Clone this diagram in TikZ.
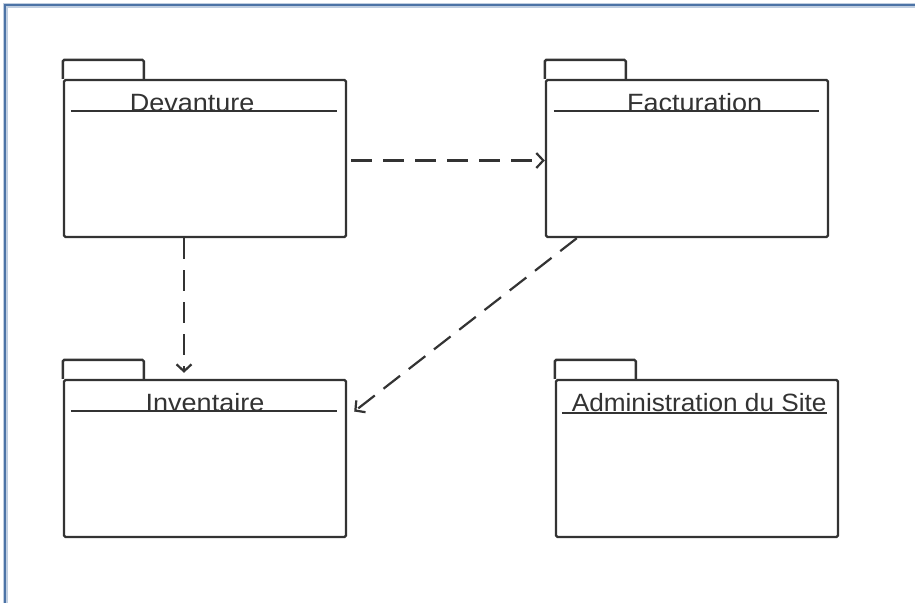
\documentclass[tikz,border=0pt]{standalone}
\usepackage{fontspec}
\setmainfont{Liberation Sans}
\usetikzlibrary{arrows.meta}
\definecolor{framecol}{HTML}{4C73A6}
\definecolor{inkcol}{HTML}{333333}
\tikzset{
  pkgbody/.style={draw=inkcol, line width=2.4pt, rounded corners=1.5pt, inner sep=0pt, fill=white},
  pkgtab/.style={draw=inkcol, line width=2.4pt, rounded corners=1.5pt},
  pkgrule/.style={draw=inkcol, line width=1.8pt},
  pkgname/.style={font=\fontsize{25}{28}\selectfont, text=inkcol, xscale=1.08, inner sep=0pt, anchor=base},
  dep/.style={draw=inkcol, line width=2.2pt, dash pattern=on 21pt off 11pt,
              -{Straight Barb[length=7pt,width=15pt,line width=2.2pt]}}
}
% package symbol: body node, tab on its upper left, header rule and name
% #1 name, #2 #3 centre, #4 text, #5 rule left inset, #6 rule right inset,
% #7 rule depth below the top, #8 options of the name
\newcommand{\umlpackage}[8]{%
  \node[pkgbody, minimum width=282pt, minimum height=157pt] (#1) at (#2,#3) {};
  \draw[pkgtab] (#1.north west) -- ++(0,-19) -- ++(81,0) -- ++(0,19);
  \draw[pkgrule] ([xshift=#5pt,yshift=-#7pt]#1.north west) -- ([xshift=-#6pt,yshift=-#7pt]#1.north east);
  \node[pkgname, #8] (#1-name) at ([yshift=-32.5pt]#1.north) {#4};
}
\begin{document}
\begin{tikzpicture}[x=1pt,y=-1pt]
  \useasboundingbox (0,0) rectangle (915,603);
  \fill[white] (0,0) rectangle (915,603);
  % window frame
  \draw[framecol!35, line width=5pt] (5,603) -- (5,5) -- (915,5);
  \draw[framecol, line width=2.6pt] (5,603) -- (5,5) -- (915,5);

  \umlpackage{dev}{205}{158.5}{Devanture}{8}{10}{32}{xshift=-12pt}
  \umlpackage{fac}{687}{158.5}{Facturation}{9}{10}{32}{xshift=7pt}
  \umlpackage{inv}{205}{458.5}{Inventaire}{8}{10}{32}{xshift=0pt}
  \umlpackage{adm}{697}{458.5}{Administration du Site}{7}{12}{34}{xshift=2pt, yshift=-0.5pt, xscale=0.97}

  % dependencies
  \draw[dep] ([xshift=4pt,yshift=-2pt]dev.east) -- ([yshift=-2pt]fac.west);
  \draw[dep] ([xshift=-21pt]dev.south) -- ([xshift=-21pt,yshift=6pt]inv.north);
  \draw[dep] ([xshift=32pt]fac.south west) -- ([xshift=7pt,yshift=47pt]inv.east);
\end{tikzpicture}
\end{document}
